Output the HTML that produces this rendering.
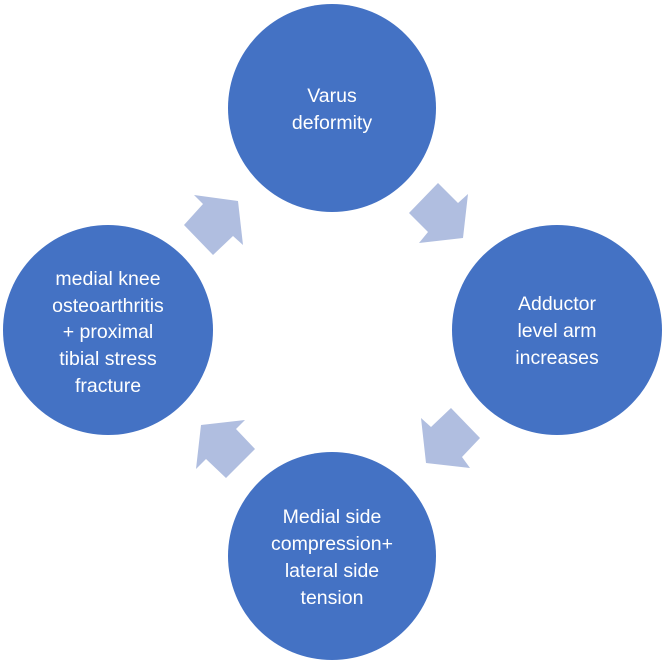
<!DOCTYPE html>
<html><head><meta charset="utf-8"><style>
body{margin:0;background:#fff;}
svg{display:block}
text{font-family:"Liberation Sans",sans-serif;font-size:19.5px;fill:#fff;text-anchor:middle}
</style></head><body>
<svg width="665" height="664" viewBox="0 0 665 664" xmlns="http://www.w3.org/2000/svg">
<g fill="#4472C4">
<circle cx="332" cy="108" r="104"/>
<circle cx="557" cy="330" r="105"/>
<circle cx="332" cy="556" r="104"/>
<circle cx="108" cy="330" r="105"/>
</g>
<g fill="#B0BEE0">
<polygon points="194,195 203,204 184,225 213,255 233,236 243,245 238,201"/>
<polygon points="438,183 409,213 428,232 419,243 463,238 468,194 458,203"/>
<polygon points="451,408 480,438 462,457 470,468 426,463 421,418 431,427"/>
<polygon points="201,425 245,420 236,429 255,449 226,478 206,459 196,469"/>
</g>
<text x="332" y="102">Varus</text>
<text x="332" y="129">deformity</text>
<text x="557" y="310">Adductor</text>
<text x="557" y="337">level arm</text>
<text x="557" y="364">increases</text>
<text x="332" y="523">Medial side</text>
<text x="332" y="550">compression+</text>
<text x="332" y="577">lateral side</text>
<text x="332" y="604">tension</text>
<text x="108" y="285">medial knee</text>
<text x="108" y="312">osteoarthritis</text>
<text x="108" y="338">+ proximal</text>
<text x="108" y="365">tibial stress</text>
<text x="108" y="392">fracture</text>
</svg>
</body></html>
